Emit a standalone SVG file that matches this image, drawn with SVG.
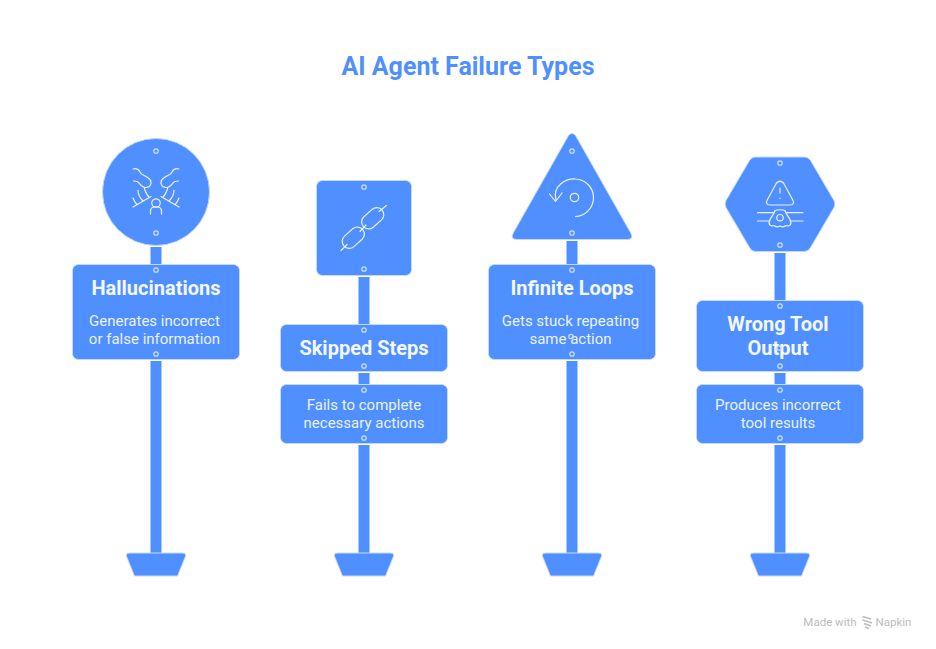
<svg xmlns="http://www.w3.org/2000/svg" width="936" height="649" viewBox="0 0 936 649">
<style>
.s{fill:#4f8fff;stroke:#c4d9ff;stroke-width:1;stroke-linejoin:round}
.p{fill:#4f8fff}
.d{fill:none;stroke:#c9dcff;stroke-width:1.3}
.i{fill:none;stroke:#eaf2ff;stroke-width:1.2;stroke-linecap:round;stroke-linejoin:round}
text{font-family:Roboto,"Liberation Sans",sans-serif;text-anchor:middle}
.h{font-size:20px;font-weight:700;fill:#f4f8ff}
.b{font-size:15px;font-weight:400;fill:#eaf2ff}
</style>
<defs>
<path id="base" class="s" d="M-26.500 0H26.500Q30.500 0 29.300 3.800L21.500 23H-21.500L-29.300 3.800Q-30.500 0-26.500 0Z"/>
<circle id="dot" class="d" r="2.200"/>
<path id="cloud" class="i" d="M133 169C136 168 138.500 169 140 172C141 175 144 175 147 177C150 179 152 182 150.500 185C149 188 145 188 142.500 186.500C140 185 139 182 137 181.500C135.500 181 134.500 181 133.500 181M144 187C145 191 146 194 149 197M138 190C138 194 140 198 143 201M133 207L151 196.500M133 198C134 200.500 135 203 137 204.500"/>
</defs>
<rect width="936" height="649" fill="#fff"/>
<text x="468" y="75" style="font-size:25px;font-weight:700;fill:#4f8fff">AI Agent Failure Types</text>

<g id="connectors">
<rect class="p" x="150.500" y="247" width="11" height="17"/>
<rect class="p" x="150.500" y="361" width="11" height="192"/>
<rect class="p" x="358.500" y="277" width="11" height="47"/>
<rect class="p" x="358.500" y="373" width="11" height="11"/>
<rect class="p" x="358.500" y="445" width="11" height="108"/>
<rect class="p" x="566.500" y="241" width="11" height="23"/>
<rect class="p" x="566.500" y="361" width="11" height="192"/>
<rect class="p" x="774.500" y="253" width="11" height="47"/>
<rect class="p" x="774.500" y="373" width="11" height="11"/>
<rect class="p" x="774.500" y="445" width="11" height="108"/>
</g>

<g id="node-hallucinations">
<circle class="s" cx="156" cy="192" r="53.500"/>
<use href="#dot" x="156" y="151"/><use href="#dot" x="156" y="233"/>
<use href="#cloud"/>
<use href="#cloud" transform="matrix(-1 0 0 1 312 0)"/>
<circle class="i" cx="156" cy="203" r="4.200"/>
<path class="i" d="M150.500 214V211C150.500 208.500 152.500 207 155 207H157C159.500 207 161.500 208.500 161.500 211V214"/>
<rect class="s" x="72.500" y="264.500" width="167" height="95" rx="6"/>
<use href="#dot" x="156" y="270"/><use href="#dot" x="156" y="354"/>
<text class="h" x="156" y="295">Hallucinations</text>
<text class="b" x="154.500" y="326">Generates incorrect</text>
<text class="b" x="154.500" y="344">or false information</text>
<use href="#base" x="156" y="553"/>
</g>

<g id="node-skipped-steps">
<rect class="s" x="316.500" y="180.500" width="95" height="95" rx="6"/>
<use href="#dot" x="364" y="187"/><use href="#dot" x="364" y="269"/>
<g class="i"><rect x="-7" y="-12.500" width="14" height="25" rx="7" transform="translate(372.700 218.300) rotate(48)"/><rect x="-7" y="-12.500" width="14" height="25" rx="7" transform="translate(353.300 237.700) rotate(48)"/></g>
<path class="i" d="M341 250.500L347 244.500M360 231.500L366 225M379 211.500L386.500 205.500"/>
<rect class="s" x="280.500" y="324.500" width="167" height="47" rx="6"/>
<use href="#dot" x="364" y="330"/><use href="#dot" x="364" y="366"/>
<text class="h" x="364" y="355">Skipped Steps</text>
<rect class="s" x="280.500" y="384.500" width="167" height="59" rx="6"/>
<use href="#dot" x="364" y="390"/><use href="#dot" x="364" y="438"/>
<text class="b" x="364" y="410">Fails to complete</text>
<text class="b" x="364" y="428">necessary actions</text>
<use href="#base" x="364" y="553"/>
</g>

<g id="node-infinite-loops">
<path class="s" d="M568.500 135.500Q572 131.500 575.500 135.500L630.500 232.500Q634.500 239.500 627 239.500H517Q509.500 239.500 513.500 232.500Z"/>
<use href="#dot" x="572" y="151"/><use href="#dot" x="572" y="233"/>
<circle class="i" cx="574.500" cy="197.500" r="4.200"/>
<path class="i" d="M556 200C552 186 566 178.500 575 179C587 179.500 593.500 189 593.500 197.500C593.500 208 585 216.500 575.500 216.500M549.500 194L555.500 201.500L562 193"/>
<rect class="s" x="488.500" y="264.500" width="167" height="95" rx="6"/>
<use href="#dot" x="572" y="270"/><use href="#dot" x="572" y="354"/>
<text class="h" x="572" y="295">Infinite Loops</text>
<text class="b" x="570.500" y="326">Gets stuck repeating</text>
<text class="b" x="570.500" y="344">same action</text>
<use href="#dot" x="571" y="336.500"/>
<use href="#base" x="572" y="553"/>
</g>

<g id="node-wrong-tool-output">
<path class="s" d="M755.500 157H804.500Q808.500 157 810.500 160.500L834 200.500Q835.800 204 834 207.500L810.500 247.500Q808.500 251.500 804.500 251.500H755.500Q751.500 251.500 749.500 247.500L726 207.500Q724.200 204 726 200.500L749.500 160.500Q751.500 157 755.500 157Z"/>
<use href="#dot" x="780" y="163"/><use href="#dot" x="780" y="245"/>
<path class="i" d="M776.500 183Q780 179.500 783.500 183L792.500 199.500Q795.500 205 790 205H770Q764.500 205 767.500 199.500Z"/>
<path class="i" d="M780 188V193M780 198V198.500"/>
<path class="i" d="M757.500 212.700H774M786 212.700H803M757.500 221H769.500M790.500 221H803"/>
<path class="i" d="M775 210.500C774 215 770.500 217 769.500 221C768 225 771 226.500 774 225.500C776 227.500 778 227 780 226C782 227 784 227.500 786 225.500C789 226.500 792 225 790.500 221C789.500 217 786 215 785 210.500C783 209.500 777 209.500 775 210.500Z"/>
<circle class="i" cx="780" cy="217.700" r="3.200"/>
<rect class="s" x="696.500" y="300.500" width="167" height="71" rx="6"/>
<use href="#dot" x="780" y="306"/><use href="#dot" x="780" y="366"/>
<text class="h" x="778" y="331">Wrong Tool</text>
<text class="h" x="778" y="355">Output</text>
<use href="#dot" x="779" y="348"/>
<rect class="s" x="696.500" y="384.500" width="167" height="59" rx="6"/>
<use href="#dot" x="780" y="390"/><use href="#dot" x="780" y="438"/>
<text class="b" x="778" y="410">Produces incorrect</text>
<text class="b" x="778" y="428">tool results</text>
<use href="#base" x="780" y="553"/>
</g>

<g id="watermark">
<text x="830" y="625.500" style="font-size:11.500px;fill:#bcbcbc">Made with</text>
<path d="M862.500 616.500L871 619M862.500 620L872 623M864 623.500L871 626M865 627L869 628.500" fill="none" stroke="#bcbcbc" stroke-width="1.500"/>
<text x="893.500" y="625.500" style="font-size:11.500px;fill:#bcbcbc">Napkin</text>
</g>
</svg>
